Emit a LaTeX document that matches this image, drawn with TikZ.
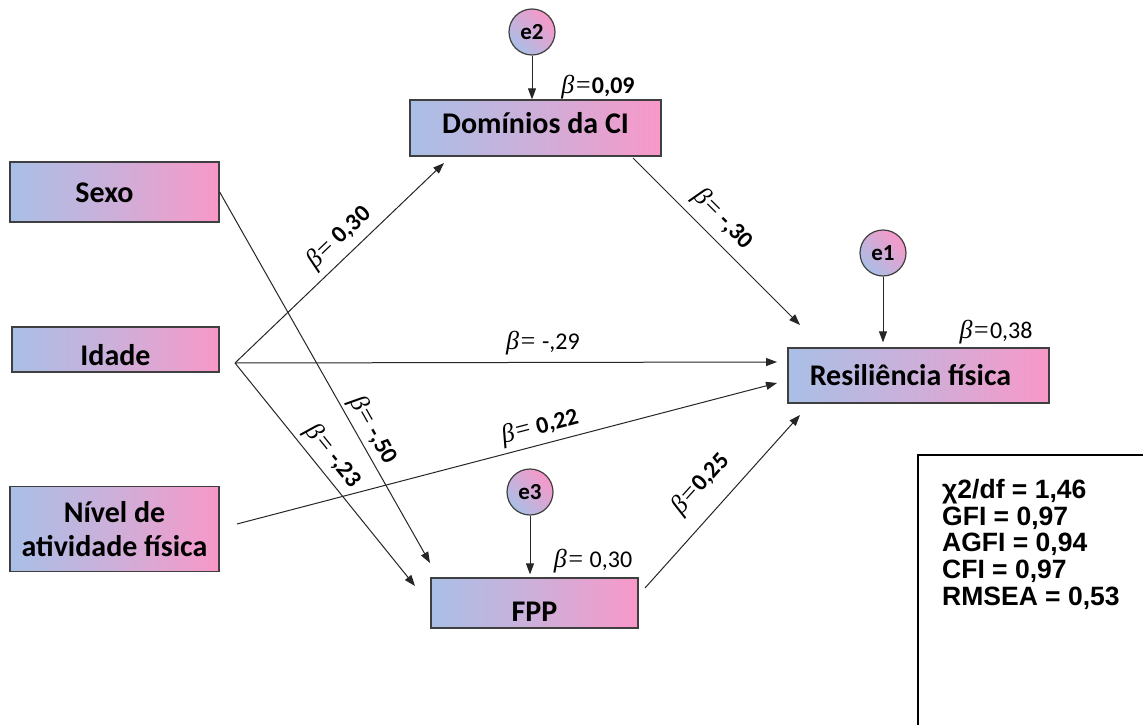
\documentclass[tikz,border=0pt]{standalone}
\usepackage{fontspec}
\setmainfont{Carlito}
\newfontfamily\arialfont{Liberation Sans}
\newfontfamily\betafont{Liberation Serif}
\usetikzlibrary{arrows.meta}
\definecolor{gblue}{HTML}{A9BFE6}
\definecolor{gmid}{HTML}{CDAFD9}
\definecolor{gpink}{HTML}{F898C8}
\definecolor{edgec}{HTML}{3F3F3F}
\newcommand\betsym{{\betafont\itshape\fontsize{26}{26}\selectfont β=}}
\begin{document}
\begin{tikzpicture}[x=1pt,y=-1pt,
  box/.style={draw=edgec, line width=1.3pt, left color=gblue, right color=gpink, middle color=gmid,
    font=\fontsize{30}{34}\selectfont\bfseries, inner sep=0pt},
  errc/.style={circle, draw=edgec, line width=1.2pt, minimum size=46pt, inner sep=0pt,
    top color=gpink, bottom color=gblue, shading angle=-45,
    font=\fontsize{23}{23}\selectfont\bfseries},
  arr/.style={-{Triangle[length=11pt,width=8pt]}, line width=1pt, draw=black!85},
  lab/.style={font=\fontsize{24}{24}\selectfont, inner sep=1pt}
]
\useasboundingbox (0,0) rectangle (1143,725);
\fill[white] (0,0) rectangle (1143,725);

% boxes
\node[box, minimum width=251pt, minimum height=56pt, text height=19pt, text depth=8pt] (dom) at (535.5,128) {Domínios da CI};
\node[box, minimum width=209pt, minimum height=60pt, text height=20pt, text depth=0pt] (sexo) at (114.5,192) {Sexo\hspace*{20pt}};
\node[box, minimum width=207pt, minimum height=45pt, text height=31pt, text depth=0pt] (idade) at (115.5,349.5) {Idade};
\node[box, minimum width=209pt, minimum height=85pt, align=center] (nivel) at (114.5,529) {Nível de\\atividade física};
\node[box, minimum width=261pt, minimum height=55pt, text height=20pt, text depth=0pt] (res) at (918.5,375.5) {Resiliência física\hspace*{16pt}};
\node[box, minimum width=207pt, minimum height=50pt, text height=37pt, text depth=0pt] (fpp) at (534.5,603) {FPP};

% error terms
\node[errc] (e2) at (532,32) {e2};
\node[errc] (e1) at (883,253) {e1};
\node[errc] (e3) at (530,492) {e3};

% connector points
\coordinate (hub) at (235,363);
\coordinate (domIn) at (444,163);
\coordinate (resIn1) at (777,362);
\coordinate (fppIn1) at (415,586);
\coordinate (fppIn2) at (430,563);
\coordinate (nivOut) at (237,524);
\coordinate (resIn2) at (777,383);
\coordinate (domOut) at (633,158);
\coordinate (resIn3) at (800,325);
\coordinate (fppOut) at (645,588);
\coordinate (resIn4) at (800,415);

% connectors
\draw[arr] (e2) -- (e2 |- dom.north);
\draw[arr, shorten >=5pt] (e1) -- (e1 |- res.north);
\draw[arr, shorten >=3pt] (e3) -- (e3 |- fpp.north);
\draw[arr] (hub) -- (domIn);
\draw[arr] (hub) -- (resIn1);
\draw[arr] (hub) -- (fppIn1);
\draw[arr] (sexo.east) -- (fppIn2);
\draw[arr] (nivOut) -- (resIn2);
\draw[arr] (domOut) -- (resIn3);
\draw[arr] (fppOut) -- (resIn4);

% coefficient labels
\node[lab] (b09) at (598,87) {\betsym\textbf{0,09}};
\node[lab] (b38) at (996,332) {\betsym0,38};
\node[lab] (b29) at (543,343) {\betsym\ -,29};
\node[lab] (b30c) at (593,561) {\betsym\ 0,30};
\node[lab, rotate=43.7] (b30a) at (339,238) {\betsym\ \textbf{0,30}};
\node[lab, rotate=-45] (b30b) at (723,219) {\betsym\ \textbf{-,30}};
\node[lab, rotate=14.6] (b22) at (540,427) {\betsym\ \textbf{0,22}};
\node[lab, rotate=-60.4] (b50) at (373,430) {\betsym\ \textbf{-,50}};
\node[lab, rotate=-51.2] (b23) at (333,456) {\betsym\ \textbf{-,23}};
\node[lab, rotate=48.1] (b25) at (701,484) {\betsym\textbf{0,25}};

% fit statistics
\draw[line width=1.5pt, black] (1143,455) -- (918,455) -- (918,725);
\node[anchor=north west, align=left, inner sep=0pt,
  font=\arialfont\bfseries\fontsize{26.5}{26.75}\selectfont] (stats) at (942,479)
  {χ2/df = 1,46\\GFI = 0,97\\AGFI = 0,94\\CFI = 0,97\\RMSEA = 0,53};
\end{tikzpicture}
\end{document}
